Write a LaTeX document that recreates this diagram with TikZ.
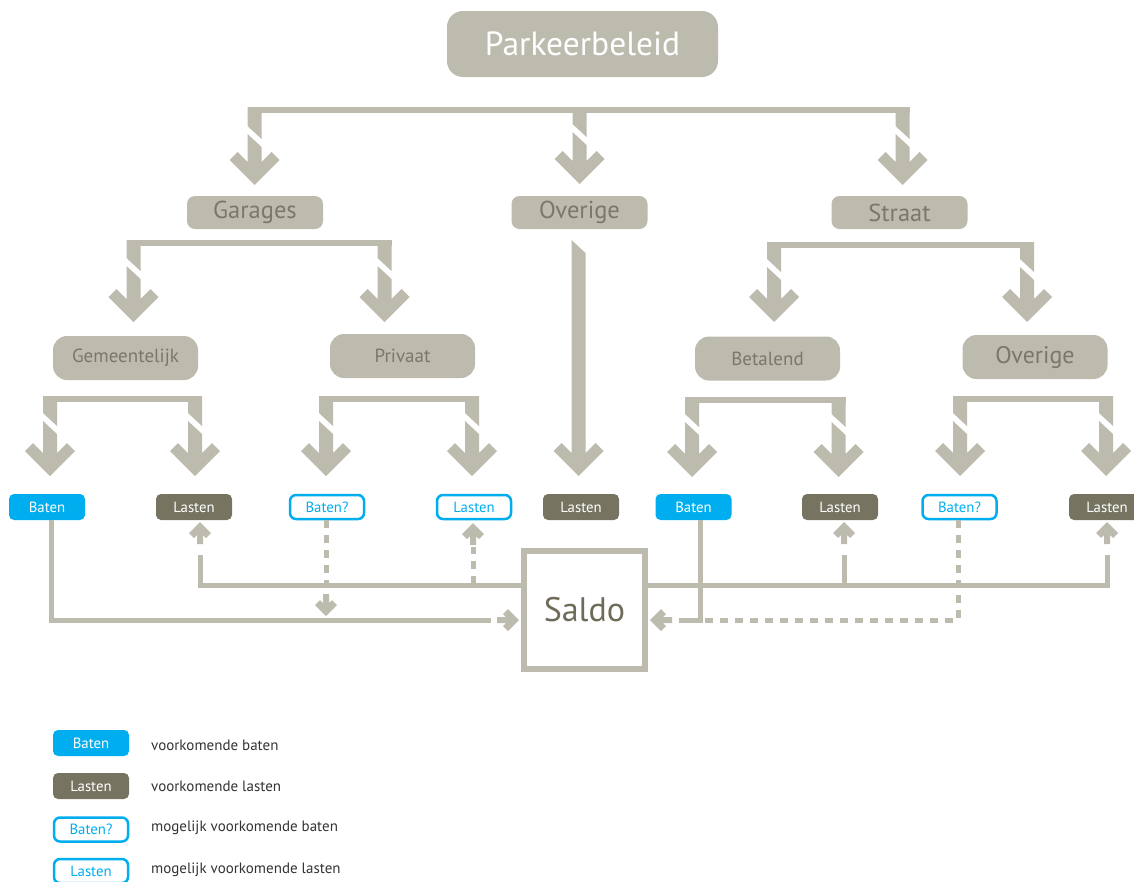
\documentclass[tikz,border=0pt]{standalone}
\usepackage{fontspec}
\setmainfont{PT Sans}
\definecolor{shp}{HTML}{BDBBAD}
\definecolor{txtg}{HTML}{7A7867}
\definecolor{bblue}{HTML}{00AEEF}
\definecolor{ldark}{HTML}{767460}
\definecolor{saldotxt}{HTML}{6E6C58}
\definecolor{legtxt}{HTML}{333333}
\newcommand\armtop[3]{% cx, ytop, ycut
  \fill[shp] (#1-7,#2) -- (#1+7,#2) -- (#1+7,#3+13) -- (#1-7,#3) -- cycle;}
\newcommand\armlow[3]{% cx, ystart(left edge), ytip
  \fill[shp] (#1-7,#2) -- (#1+7,#2+13) -- (#1+7,#3-23) -- (#1+17,#3-33) -- (#1+25,#3-25) -- (#1,#3)
    -- (#1-25,#3-25) -- (#1-17,#3-33) -- (#1-7,#3-23) -- cycle;}
\newcommand\bigarrow[4]{\armtop{#1}{#2}{#3}\armlow{#1}{#3+8}{#4}}
\newcommand\bracketbar[3]{% x1 x2 y
  \fill[shp] (#1-7,#3) rectangle (#2+7,#3+6);}
\tikzset{
  smallhead/.pic={\fill[shp] (0,0) -- (11,11) -- (6,16) -- (3,13) -- (3,22) -- (-3,22) -- (-3,13) -- (-6,16) -- (-11,11) -- cycle;},
  topbox/.style={fill=shp, rounded corners=16pt, minimum width=271pt, minimum height=66pt, inner sep=0pt, text=white, font=\fontsize{33.5}{33.5}\selectfont},
  midbox/.style={fill=shp, rounded corners=8pt, minimum width=136pt, minimum height=33pt, inner sep=0pt, text=txtg, font=\fontsize{24.5}{24.5}\selectfont},
  lowbox/.style={fill=shp, rounded corners=14pt, minimum width=145pt, minimum height=44pt, inner sep=0pt, text=txtg, font=\fontsize{19}{19}\selectfont},
  leafb/.style={fill=bblue, rounded corners=5pt, minimum width=76pt, minimum height=26pt, inner sep=0pt, text=white, font=\fontsize{14.8}{14.8}\selectfont},
  leafl/.style={fill=ldark, rounded corners=5pt, minimum width=76pt, minimum height=26pt, inner sep=0pt, text=white, font=\fontsize{14.8}{14.8}\selectfont},
  leafq/.style={draw=bblue, line width=2.5pt, fill=white, rounded corners=6pt, minimum width=74pt, minimum height=24pt, inner sep=0pt, text=bblue, font=\fontsize{14.8}{14.8}\selectfont},
  legtext/.style={anchor=west, inner sep=0pt, text=legtxt, font=\fontsize{15}{15}\selectfont},
  conn/.style={draw=shp, line width=5pt},
  dconn/.style={draw=shp, line width=5pt, dash pattern=on 8pt off 7pt},
}
\begin{document}
\begin{tikzpicture}[x=1pt,y=-1pt]
\useasboundingbox (0,0) rectangle (1134,881);
\begin{scope}
\clip (0,0) rectangle (1134,881);
% level nodes
\node[topbox] (park) at (582.5,44) {Parkeerbeleid};
\node[midbox] (garages) at (255,212.5) {Garages};
\node[midbox] (overige1) at (579.5,212.5) {Overige};
\node[midbox] (straat) at (899.5,212.5) {Straat};
\node[lowbox] (gem) at (125.5,358) {Gemeentelijk};
\node[lowbox] (priv) at (402.5,356) {Privaat};
\node[lowbox] (bet) at (767.5,358.5) {Betalend};
\node[lowbox, font=\fontsize{24}{24}\selectfont] (ov2) at (1035,357) {Overige};
% leaves
\node[leafb] (b1) at (47,507) {Baten};
\node[leafl] (l1) at (194,507) {Lasten};
\node[leafq] (bq1) at (327,507) {Baten?};
\node[leafq] (lq1) at (474,507) {Lasten};
\node[leafl] (l2) at (581,507) {Lasten};
\node[leafb] (b2) at (693.5,507) {Baten};
\node[leafl] (l3) at (840,507) {Lasten};
\node[leafq] (bq2) at (959.5,507) {Baten?};
\node[leafl] (l4) at (1107,507) {Lasten};
% saldo
\node[draw=shp, line width=6pt, fill=white, minimum width=121pt, minimum height=118pt, inner sep=0pt, text=saldotxt, font=\fontsize{34}{34}\selectfont] (saldo) at (584.5,610) {Saldo};
% brackets level 1
\bracketbar{254.5}{902.5}{107}
\bigarrow{254.5}{107}{126}{185}
\bigarrow{579.5}{107}{124}{184}
\bigarrow{902.5}{107}{126}{185}
% level 2
\bracketbar{133.5}{384.5}{240}
\bigarrow{133.5}{240}{258}{322}
\bigarrow{384.5}{240}{258}{322}
\armlow{578.5}{240}{476}
\bracketbar{774}{1027}{242}
\bigarrow{774}{242}{259}{322}
\bigarrow{1027}{242}{259}{322}
% level 3
\bracketbar{50}{195}{396}
\bigarrow{50}{396}{413}{476}
\bigarrow{195}{396}{413}{476}
\bracketbar{326}{472}{396}
\bigarrow{326}{396}{413}{476}
\bigarrow{472}{396}{413}{476}
\bracketbar{692}{838.5}{397}
\bigarrow{692}{397}{414}{477}
\bigarrow{838.5}{397}{414}{477}
\bracketbar{960}{1106}{396}
\bigarrow{960}{396}{413}{476}
\bigarrow{1106}{396}{413}{476}
% bottom connectors
\coordinate (lft) at (200,585);
\coordinate (rgt) at (1107,585);
\draw[conn] (saldo.west |- lft) -- (lft) -- (200,555);
\pic at (200,522) {smallhead};
\draw[dconn] (473,584) -- (473,547);
\pic at (473,523) {smallhead};
\draw[conn] (saldo.east |- rgt) -- (rgt) -- (1107,555);
\pic at (1107,522) {smallhead};
\draw[conn] (844,585) -- (844,555);
\pic at (844,522) {smallhead};
\draw[conn] (b1.south -| 51,0) |- (491,620);
\pic[rotate=-90] at (519,620) {smallhead};
\draw[dconn] (bq1.south -| 326,0) -- (326,594);
\pic[rotate=180] at (326,616) {smallhead};
\draw[conn] (b2.south -| 700,0) |- (679,620);
\pic[rotate=90] at (650,620) {smallhead};
\draw[dconn] (bq2.south -| 958,0) |- (705,620);
% legend
\node[leafb] (lgb) at (91,743) {Baten};
\node[legtext] (lgbt) at (151,745) {voorkomende baten};
\node[leafl] (lgl) at (91,786) {Lasten};
\node[legtext] (lglt) at (151,786) {voorkomende lasten};
\node[leafq] (lgq) at (91,829.5) {Baten?};
\node[legtext] (lgqt) at (151,828) {mogelijk voorkomende baten};
\node[leafq] (lgql) at (91,871) {Lasten};
\node[legtext] (lgqlt) at (151,870) {mogelijk voorkomende lasten};
\end{scope}
\end{tikzpicture}
\end{document}
